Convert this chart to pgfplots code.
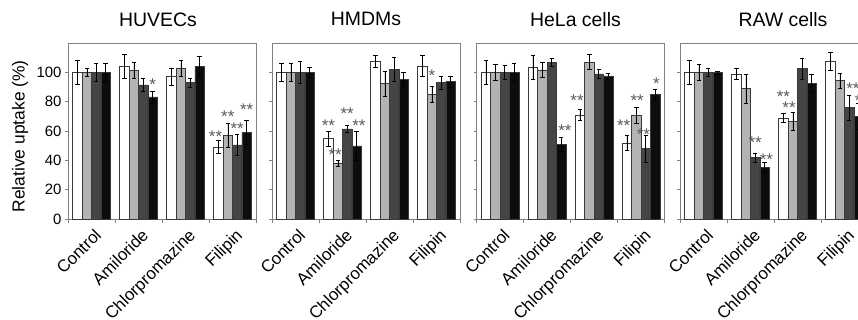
\documentclass[border=0pt]{standalone}
\usepackage{pgfplots}
\pgfplotsset{compat=1.18}
\usepackage{pgfplotstable}
\usepackage{fontspec}
\setmainfont{Liberation Sans}

\definecolor{barW}{HTML}{FFFFFF}
\definecolor{barL}{HTML}{B3B3B3}
\definecolor{barD}{HTML}{454545}
\definecolor{barB}{HTML}{0D0D0D}
\definecolor{outl}{HTML}{3A3A3A}
\definecolor{frame}{HTML}{808080}
\definecolor{starc}{HTML}{5A5A5A}

% x w we l le d de b be
\pgfplotstableread{
x w we l le d de b be
0 100 8 100 3 100 6 100 6
1 104 8 101.6 5.5 91.4 4.5 83.2 4
2 97 6 102.7 5.5 93 3 104 7
3 49 4.4 57 8 50.5 7 59.2 8
}\huvec
\pgfplotstableread{
x w we l le d de b be
0 100 6 100 6 100 7.5 100 3.5
1 54.8 5 38 2 61.4 2.5 49.8 10
2 107.5 3.9 92.5 8.5 102 8 95.2 4.6
3 104.3 7 85.2 5.5 93 4.5 93.6 3.5
}\hmdm
\pgfplotstableread{
x w we l le d de b be
0 100 8 100 5.5 100 5 100 6
1 103.6 8 101.6 5 107 2.7 50.7 4.8
2 71 3.5 107 5 99 3.2 97.5 2
3 51.8 5 71 5.5 48 9 84.8 3.6
}\hela
\pgfplotstableread{
x w we l le d de b be
0 100 8 100 5.5 100 3 100 1
1 99 3.5 88.9 10 42 3 35 3.4
2 69 3 66.6 6 102.5 7 92.5 6.4
3 107.7 6 94.3 5 76 8.5 70 8.8
}\raw

% star labels: x y s
\pgfplotstableread{
x y s
1.3 94.6 *
2.64 59 **
2.9 72.8 **
3.1 64.4 **
3.3 77.1 **
}\huvecS
\pgfplotstableread{
x y s
0.7 66.2 **
0.845 46.3 **
1.1 74.8 **
1.35 66.2 **
2.9 100.2 *
}\hmdmS
\pgfplotstableread{
x y s
1.38 62.8 **
1.64 83.2 **
2.63 66.2 **
2.92 83.2 **
3.05 60.5 **
3.33 95 *
}\helaS
\pgfplotstableread{
x y s
1.1 54.9 **
1.34 43.5 **
1.7 85.9 **
1.82 78.7 **
3.18 91.8 **
3.36 83.2 **
}\rawS

\pgfplotsset{
  panel/.style={
    scale only axis,
    width=188bp, height=176bp,
    xmin=-0.5, xmax=3.5, ymin=0, ymax=120,
    axis line style={frame, line width=0.8pt},
    xtick={0,1,2,3},
    xticklabels={Control,Amiloride,Chlorpromazine,Filipin},
    minor xtick={-0.5,0.5,1.5,2.5,3.5},
    every major x tick/.style={draw=none},
    ytick={0,20,40,60,80,100},
    tick pos=left,
    tick align=outside,
    major tick length=3bp, minor tick length=4bp,
    tick style={frame, line width=0.7pt},
    xticklabel style={rotate=45, anchor=north east, font=\fontsize{17}{19}\selectfont, yshift=-2bp, xshift=1bp},
    yticklabel style={font=\fontsize{15}{17}\selectfont},
    /pgf/number format/assume math mode=true,
    title style={at={(axis description cs:0.5,1)}, anchor=center, yshift=17.7bp, font=\fontsize{19.5}{22}\selectfont},
    clip=false,
  },
  bw/.style={ybar, bar width=0.2, bar shift=0pt, draw=outl, line width=0.5pt,
    error bars/y dir=both, error bars/y explicit,
    error bars/error bar style={black, line width=0.55pt},
    error bars/error mark options={black, mark size=2.2bp, line width=0.55pt, rotate=90}},
  stars/.style={draw=none, mark=none, nodes near coords, point meta=explicit symbolic,
    nodes near coords style={anchor=base, yshift=-9.8bp, text=starc, inner sep=0pt,
      font=\fontsize{17}{19}\selectfont}},
}

\newcommand{\bars}[1]{%
  \addplot[bw, fill=barW] table[x expr=\thisrow{x}-0.3, y=w, y error=we] {#1};
  \addplot[bw, fill=barL] table[x expr=\thisrow{x}-0.1, y=l, y error=le] {#1};
  \addplot[bw, fill=barD] table[x expr=\thisrow{x}+0.1, y=d, y error=de] {#1};
  \addplot[bw, fill=barB] table[x expr=\thisrow{x}+0.3, y=b, y error=be] {#1};
}

\begin{document}
\begin{tikzpicture}
\useasboundingbox (0,0) rectangle (858bp,320bp);

\begin{axis}[panel, at={(68bp,101bp)}, anchor=south west,
  title={HUVECs}, title style={xshift=-4bp},
  ylabel={Relative uptake (\%)},
  ylabel style={at={(axis description cs:-0.255,0.47)}, anchor=center, rotate=0, font=\fontsize{17.5}{20}\selectfont}]
\bars{\huvec}
\addplot[stars] table[x=x, y=y, meta=s] {\huvecS};
\end{axis}

\begin{axis}[panel, at={(272bp,101bp)}, anchor=south west,
  title={HMDMs}, yticklabels={}]
\bars{\hmdm}
\addplot[stars] table[x=x, y=y, meta=s] {\hmdmS};
\end{axis}

\begin{axis}[panel, at={(476.5bp,101bp)}, anchor=south west,
  title={HeLa cells}, title style={xshift=5bp}, yticklabels={}]
\bars{\hela}
\addplot[stars] table[x=x, y=y, meta=s] {\helaS};
\end{axis}

\begin{axis}[panel, at={(680bp,101bp)}, anchor=south west,
  title={RAW cells}, title style={xshift=9bp}, yticklabels={}]
\bars{\raw}
\addplot[stars] table[x=x, y=y, meta=s] {\rawS};
\end{axis}
\end{tikzpicture}
\end{document}
